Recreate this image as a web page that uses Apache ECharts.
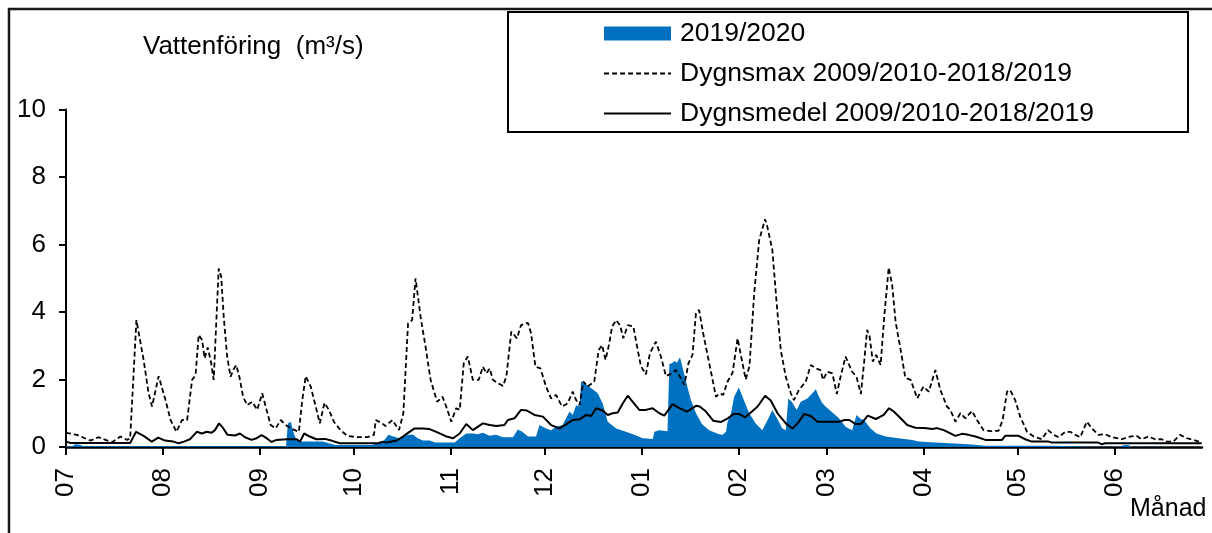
<!DOCTYPE html>
<html><head><meta charset="utf-8">
<script src="https://cdn.jsdelivr.net/npm/echarts@6/dist/echarts.min.js"></script>
<style>html,body{margin:0;padding:0;background:#fff}#c{width:1212px;height:533px}</style>
</head><body><div id="c"></div>
<script>
// Month ticks (day index from 1 July) and labels
const monthDays = [0,31,62,92,123,153,184,215,243,274,304,335];
const monthLabels = ['07','08','09','10','11','12','01','02','03','04','05','06'];
const yTicks = [0,2,4,6,8,10];
const seriesNames = ['2019/2020','Dygnsmax 2009/2010-2018/2019','Dygnsmedel 2009/2010-2018/2019'];

// 2019/2020 daily flow (day, m3/s)
const curDays = [0,2,3,4.5,5.5,70.3,70.9,71.8,72.8,73.7,75,82,84,86,98,99.8,101,102.5,103,104.6,106.6,107.6,109.3,110.9,112.4,114,116.2,118,124.2,125.8,127.9,130,131.6,133.2,135.4,137.5,139.6,142.8,144.4,145.8,147.6,150.2,151.3,153.4,155,156.6,158.7,160.9,161.9,163,164.1,164.6,165.7,167,168.3,169.9,171.5,173.1,175.8,178.9,181.6,184.3,187.5,188,189.6,192.2,192.8,193.8,194.5,195.2,196.2,197.5,198.5,199.7,201.3,203.2,205.5,208.7,209.8,210.9,211.4,212.4,213.5,215,216.2,217,218.3,220.4,222.5,223.1,224.7,225.7,226.3,227.5,228.9,230,230.8,231.9,233.5,234.8,236.9,238.5,239.6,240.6,241.7,242.7,244.9,247,249.1,251.2,252.6,254,255,257.1,259,261.9,266,270.4,272.5,277.8,288.4,293.8,315,328.9,337,338,339.5,340.5,363];
const curVals = [0.02,0.02,0.08,0.07,0.02,0.02,0.7,0.75,0.4,0.19,0.16,0.16,0.11,0.06,0.06,0.13,0.12,0.3,0.36,0.31,0.26,0.3,0.36,0.36,0.26,0.19,0.19,0.13,0.13,0.26,0.4,0.4,0.38,0.42,0.33,0.36,0.29,0.29,0.52,0.45,0.31,0.31,0.65,0.55,0.5,0.6,0.65,1.05,0.95,1.24,1.2,1.94,1.89,1.79,1.71,1.59,1.29,0.75,0.55,0.45,0.36,0.26,0.24,0.45,0.5,0.47,2.45,2.5,2.55,2.5,2.66,2.18,1.8,1.39,1.0,0.68,0.5,0.38,0.36,0.45,0.75,0.95,1.49,1.76,1.49,1.3,1.0,0.7,0.5,0.5,0.9,1.1,1.15,0.8,0.55,0.5,1.44,1.34,1.1,1.34,1.44,1.59,1.71,1.49,1.3,1.2,1.02,0.85,0.6,0.5,0.95,0.83,0.8,0.55,0.4,0.31,0.26,0.21,0.16,0.13,0.08,0.04,0.04,0.01,0.01,0.06,0.06,0.01,0.01];

// Daily max 2009/2010-2018/2019
const maxDays = [0,3.5,7.8,10.4,12.6,14.7,17.4,19.5,20.5,22.5,24.8,26.4,27.5,29.6,31.8,33.4,35.3,37.1,38.7,40.3,41.4,42.4,43.5,44.3,45.3,46.4,47.2,48.1,48.8,49.6,50.4,51.5,52.6,53.4,54.4,55.4,56.6,57.9,59.5,61.1,62.7,63.8,65.4,67,68.6,70.2,71.8,74.4,75.5,76.6,78.2,79.8,81.1,82.6,84,85.6,87.7,89.9,93.1,96.3,98.4,99,101,102.1,104.3,106.4,107.8,109.3,110.6,111.7,113.3,114.9,116.5,118.6,120.3,121.5,123.1,124.7,125.8,127.1,128.4,130,131.9,133.2,134.3,135.4,136.4,138,139.6,140.7,142.3,144.1,145.4,147.6,148.6,150,151.6,153.4,155,156.6,158.5,160.3,161.9,163,164.1,165.3,166.7,168.8,170.2,171.3,172.4,173.6,174.5,175.8,177.1,178.1,179.5,181.3,182.7,183.7,185.3,186.6,188.5,190.1,191.7,193.6,194.9,196.2,197.6,198.9,200.2,201.3,202.3,203.6,205.5,207.7,208.9,210,211.4,213,214.6,215.9,217.2,218.4,219.9,221.5,223.4,224.1,225.7,227,228.4,230,231.6,232.6,234.2,236.4,238,239.6,241.1,241.9,243.3,244.9,246.3,247.5,249.1,251.2,252.6,254,255,256,256.8,257.8,258.9,260.3,261.5,262.9,264,265.1,266.7,268.2,269.9,272,274,275.7,277.8,279.4,281.5,282.6,284.2,285.8,287.4,289.5,291.1,293.2,295.4,298,299.3,300.7,301.7,303.3,304.9,307.1,309.2,311.8,313.8,315.6,317.2,319.3,320.9,322.5,324.1,326.2,327.8,329.9,332,334.2,337.4,340,342.1,343.7,345.9,348,350.1,351.7,353.8,356,358.1,360.2,362.9];
const maxVals = [0.42,0.36,0.19,0.29,0.21,0.14,0.31,0.21,0.25,3.76,2.58,1.59,1.2,2.1,1.39,0.8,0.45,0.8,0.8,1.99,2.13,3.32,3.17,2.63,2.95,2.48,1.99,3.86,5.29,5.05,3.86,2.68,2.08,2.28,2.43,2.08,1.49,1.24,1.34,1.1,1.59,1.2,0.65,0.55,0.8,0.65,0.55,0.45,1.39,2.1,1.79,1.2,0.7,1.31,1.1,0.75,0.5,0.33,0.29,0.29,0.36,0.8,0.7,0.62,0.8,0.5,1.0,3.66,3.76,5.0,3.86,2.97,1.99,1.34,1.49,1.2,0.75,1.15,1.1,2.48,2.68,1.99,1.99,2.38,2.18,2.33,1.99,1.89,1.81,2.08,3.42,3.22,3.61,3.68,3.37,2.38,2.33,1.79,1.44,1.54,1.2,1.29,1.64,1.39,1.24,1.94,1.79,1.94,2.87,3.02,2.58,3.07,3.57,3.76,3.59,3.22,3.61,3.57,2.87,2.4,2.15,2.78,3.12,2.68,2.1,2.18,2.28,2.08,1.84,2.48,2.73,3.96,4.06,3.37,2.5,1.49,1.59,1.54,1.94,2.2,3.22,2.6,2.0,2.4,4.55,6.13,6.75,6.53,5.84,4.36,2.87,2.08,1.59,1.39,1.69,1.94,2.43,2.33,2.28,1.99,2.23,2.18,1.57,2.08,2.68,2.23,2.08,1.57,2.48,3.47,3.27,2.53,2.73,2.43,3.9,5.32,4.8,3.7,2.88,2.05,1.99,1.44,1.79,1.64,2.28,1.69,1.2,1.1,0.75,1.0,0.85,1.07,0.8,0.5,0.47,0.48,0.8,1.64,1.69,1.39,0.9,0.45,0.31,0.23,0.5,0.36,0.29,0.45,0.45,0.36,0.29,0.75,0.55,0.36,0.38,0.29,0.23,0.31,0.33,0.23,0.31,0.23,0.23,0.16,0.16,0.36,0.26,0.21,0.13];

// Daily mean 2009/2010-2018/2019
const meanDays = [0,1.5,20.5,22.4,24.8,27.4,29.5,31.6,34.3,36,37.7,39.6,41.8,43.4,45,46.5,47.6,48.9,50.3,51.6,54,55.6,57.2,59.3,60.9,62.5,64.1,65.7,67.3,70.5,73.7,74.8,76.1,77.9,80,82.7,84.8,87.5,99.7,101.3,102.4,104,105.6,107.7,109.3,111.4,114,116.2,118.3,120.5,121.6,123.7,125.8,127.9,130,133.2,135.4,137.5,140.1,141.2,143.3,145.4,147.3,149.7,152.4,155,157.7,160.3,161.9,164.1,166.2,167.8,169.4,171.5,173.1,174.7,176.3,177.9,179.5,181.1,183.2,185.3,187.4,189.6,191.2,193.8,196,198.4,201.3,202.5,204.5,206.8,209.2,211.5,213.4,215.1,217,219.2,221,223.4,225.2,227.5,230,232.1,233.8,235.9,238,240.1,247,248.8,250.3,252.3,254,256.2,258.8,261.3,263,264.5,266.7,268.8,271.4,274.3,276.8,278.3,280.5,284.2,286.3,288.4,290.6,293.8,299.1,300.1,304.4,306.5,308.6,314,315,329.9,331,332,362.9];
const meanVals = [0.16,0.12,0.12,0.45,0.33,0.16,0.28,0.19,0.16,0.11,0.16,0.23,0.45,0.4,0.45,0.42,0.5,0.7,0.55,0.36,0.34,0.4,0.29,0.21,0.26,0.35,0.26,0.15,0.21,0.23,0.23,0.16,0.4,0.31,0.23,0.24,0.19,0.11,0.11,0.16,0.13,0.16,0.19,0.31,0.42,0.55,0.55,0.53,0.45,0.36,0.31,0.26,0.4,0.68,0.5,0.7,0.65,0.62,0.65,0.8,0.85,1.1,1.08,0.95,0.9,0.65,0.55,0.7,0.8,0.82,0.95,0.92,1.15,1.08,0.95,1.0,1.02,1.29,1.52,1.34,1.1,1.1,1.15,1.0,0.93,1.27,1.15,1.05,1.22,1.2,1.05,0.78,0.74,0.85,0.98,0.98,0.88,1.05,1.2,1.52,1.38,0.98,0.7,0.55,0.7,0.98,0.92,0.75,0.75,0.8,0.8,0.68,0.68,0.93,0.83,0.95,1.15,1.05,0.85,0.65,0.57,0.56,0.53,0.56,0.5,0.33,0.39,0.36,0.31,0.21,0.21,0.33,0.33,0.23,0.16,0.16,0.13,0.13,0.08,0.11,0.11];

const pair = (d, v) => d.map((x, i) => [x, v[i]]);
const FONT = 'Liberation Sans, Arial, sans-serif';
const BLUE = '#0070C0';

const chart = echarts.init(document.getElementById('c'), null, {renderer: 'canvas'});
chart.setOption({
  animation: false,
  backgroundColor: '#fff',
  grid: {left: 66, right: 10, top: 109.5, bottom: 86, containLabel: false},
  xAxis: {
    type: 'value', min: 0, max: 363,
    axisLine: {show: true, onZero: false, lineStyle: {color: '#000', width: 2.5}},
    axisTick: {show: true, length: 8, lineStyle: {color: '#000', width: 2}, customValues: monthDays},
    axisLabel: {
      customValues: monthDays, rotate: 90, margin: 21, color: '#000',
      fontFamily: FONT, fontSize: 26,
      formatter: v => monthLabels[monthDays.indexOf(Math.round(v))] || ''
    },
    splitLine: {show: false}
  },
  yAxis: {
    type: 'value', min: 0, max: 10, interval: 2,
    axisLine: {show: true, lineStyle: {color: '#000', width: 2}},
    axisTick: {show: true, length: 7, lineStyle: {color: '#000', width: 2}},
    axisLabel: {color: '#000', fontFamily: FONT, fontSize: 26, margin: 20,
      formatter: v => yTicks.includes(v) ? String(v) : ''},
    splitLine: {show: false}
  },
  legend: {
    orient: 'vertical', left: 603, top: 15, padding: [5, 5, 5, 0],
    itemWidth: 67, itemHeight: 14, itemGap: 13,
    textStyle: {color: '#000', fontFamily: FONT, fontSize: 26.5, padding: [0,0,0,4]},
    data: [
      {name: seriesNames[0], icon: 'rect', itemStyle: {color: BLUE}},
      {name: seriesNames[1], itemStyle: {opacity: 0}},
      {name: seriesNames[2], itemStyle: {opacity: 0}}
    ]
  },
  series: [
    {name: seriesNames[0], type: 'line', data: pair(curDays, curVals), symbol: 'none',
     lineStyle: {width: 0, color: BLUE}, itemStyle: {color: BLUE},
     areaStyle: {color: BLUE, opacity: 1}, z: 1},
    {name: seriesNames[1], type: 'line', data: pair(maxDays, maxVals), symbol: 'none',
     lineStyle: {width: 1.8, color: '#000', type: [5, 3]}, itemStyle: {color: '#000'}, z: 3},
    {name: seriesNames[2], type: 'line', data: pair(meanDays, meanVals), symbol: 'none',
     lineStyle: {width: 2, color: '#000'}, itemStyle: {color: '#000'}, z: 4}
  ],
  graphic: [
    {type: 'rect', shape: {x: 9, y: 9, width: 1300, height: 700},
     style: {fill: null, stroke: '#1a1a1a', lineWidth: 2.5}, silent: true, z: 0},
    {type: 'rect', shape: {x: 508, y: 12, width: 680, height: 120},
     style: {fill: '#fff', stroke: '#000', lineWidth: 2}, silent: true, z: -1, zlevel: 0},
    {type: 'text', left: 143, top: 34,
     style: {text: 'Vattenföring  (m³/s)', font: '26px ' + FONT, fill: '#000'}},
    {type: 'text', left: 1130, top: 497,
     style: {text: 'Månad', font: '25px ' + FONT, fill: '#000'}}
  ]
});
</script></body></html>
